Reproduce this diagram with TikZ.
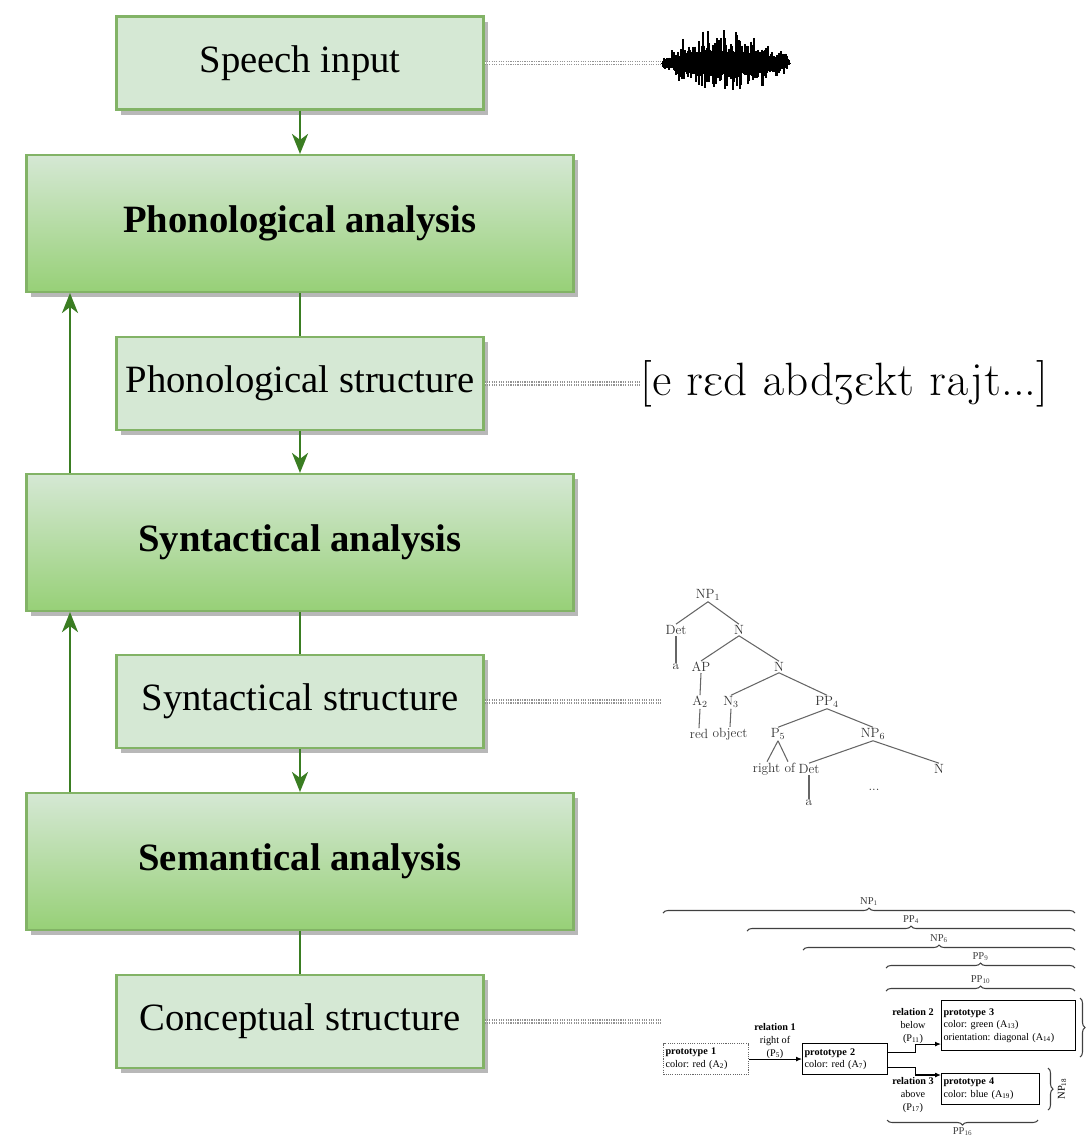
\documentclass[tikz,border=0pt]{standalone}
\usepackage{fontspec}
\usepackage{tipa}
\newfontfamily\timesfont{Liberation Serif}
\usetikzlibrary{arrows.meta}
\usetikzlibrary{shadows}
\usetikzlibrary{decorations.pathreplacing}
\usetikzlibrary{calc}
\definecolor{boxfill}{HTML}{D5E8D4}
\definecolor{boxline}{HTML}{82B366}
\definecolor{boxdark}{HTML}{97D077}
\definecolor{flowgreen}{HTML}{3A7D22}

\begin{document}
\begin{tikzpicture}[x=0.03cm,y=-0.03cm,
	structure/.style={draw=boxline, line width=1.8pt, fill=boxfill, minimum width=11.01cm, minimum height=2.79cm, inner sep=0pt,
		font=\timesfont\fontsize{33}{39}\selectfont,
		drop shadow={shadow xshift=0.135cm, shadow yshift=-0.15cm, fill=black!35, opacity=0.8}},
	analysis/.style={structure, top color=boxfill, bottom color=boxdark, minimum width=16.41cm, minimum height=4.11cm,
		font=\timesfont\bfseries\fontsize{33}{39}\selectfont},
	flow/.style={flowgreen, line width=2.1pt, -{Stealth[length=0.6cm,width=0.48cm,inset=0.18cm]}},
	flowline/.style={flowgreen, line width=2.1pt},
	link/.style={gray!85, line width=1pt, densely dotted, double=white, double distance=1.5pt},
	tree/.style={inner sep=0.03cm, text=black!80, font=\fontsize{11.4}{13.5}\selectfont},
	treeline/.style={black!60, line width=0.9pt},
	proto/.style={draw, line width=0.9pt, inner sep=0.06cm, align=left, anchor=north west, minimum height=0.93cm,
		font=\timesfont\frenchspacing\fontsize{8.7}{10.8}\selectfont},
	rel/.style={inner sep=0pt, align=center, font=\timesfont\fontsize{8.7}{10.8}\selectfont},
	lab/.style={inner sep=0pt, font=\timesfont\fontsize{9}{10.8}\selectfont},
	conarrow/.style={line width=0.9pt, -{Latex[length=0.18cm,width=0.15cm]}},
	brace/.style={decorate, decoration={brace, amplitude=0.15cm}, line width=0.9pt, black!75}]
	\useasboundingbox (0,0) rectangle (1089,1141);
	% define coordinates
	\coordinate (fb) at (70,0);
	\coordinate (wave) at (662,63);
	\coordinate (treeL) at (662,701.5);
	\coordinate (concL) at (662,1021.5);
	% stages
	\node[structure] (speech) at (300,63) {Speech input};
	\node[analysis] (phon) at (300,223.5) {Phonological analysis};
	\node[structure] (phonstr) at (300,383.5) {Phonological structure};
	\node[analysis] (syn) at (300,542.5) {Syntactical analysis};
	\node[structure] (synstr) at (300,701.5) {Syntactical structure};
	\node[analysis] (sem) at (300,861.5) {Semantical analysis};
	\node[structure] (concstr) at (300,1021.5) {Conceptual structure};
	% flow
	\draw[flow] (speech.south) -- (phon.north);
	\draw[flowline] (phon.south) -- (phonstr.north);
	\draw[flow] (phonstr.south) -- (syn.north);
	\draw[flowline] (syn.south) -- (synstr.north);
	\draw[flow] (synstr.south) -- (sem.north);
	\draw[flowline] (sem.south) -- (concstr.north);
	\draw[flow] (syn.north -| fb) -- (phon.south -| fb);
	\draw[flow] (sem.north -| fb) -- (syn.south -| fb);
	% speech signal
	\pgfmathsetseed{42}
	\foreach \i in {0,...,128}{
		\pgfmathsetmacro\env{sqrt(max(sin(1.40625*\i),0.001))}
		\pgfmathsetmacro\up{\env*(10+25*rnd*rnd)}
		\pgfmathsetmacro\dn{\env*(10+25*rnd*rnd)}
		\draw[line width=0.036cm] (662+\i,63-\up) -- (662+\i,63+\dn);
	}
	\draw[link] (speech.east) -- (wave);
	% transcription
	\node[anchor=west, inner sep=0pt, scale=1.6, font=\fontsize{24.88}{30}\selectfont] (ipa) at (640,383.5) {[\textipa{e rEd abdZEkt rajt}...]};
	\draw[link] (phonstr.east) -- (ipa.west);
	% syntax tree
	\draw[link] (synstr.east) -- (treeL);
	\node[tree] (np1) at (708,595) {NP$_1$};
	\node[tree] (detA) at (676,630) {Det};
	\node[tree] (nA) at (739,630) {N};
	\node[tree] (aA) at (676,667) {a};
	\node[tree] (ap) at (701,667) {AP};
	\node[tree] (nB) at (779,667) {N};
	\node[tree] (a2) at (700,702) {A$_2$};
	\node[tree] (n3) at (731,702) {N$_3$};
	\node[tree] (pp4) at (827,702) {PP$_4$};
	\node[tree] (red) at (699,734) {red};
	\node[tree] (obj) at (730,734) {object};
	\node[tree] (p5) at (778,734) {P$_5$};
	\node[tree] (np6) at (873,734) {NP$_6$};
	\node[tree] (rightof) at (774,769) {right of};
	\node[tree] (detB) at (809,769) {Det};
	\node[tree] (nC) at (939,769) {N};
	\node[tree] (aB) at (809,803) {a};
	\node[tree] (dots) at (874,790) {...};
	\draw[treeline] (np1.south) -- (detA.north);
	\draw[treeline] (np1.south) -- (nA.north);
	\draw[treeline] (detA.south) -- (aA.north);
	\draw[treeline] (nA.south) -- (ap.north);
	\draw[treeline] (nA.south) -- (nB.north);
	\draw[treeline] (ap.south) -- (a2.north);
	\draw[treeline] (nB.south) -- (n3.north);
	\draw[treeline] (nB.south) -- (pp4.north);
	\draw[treeline] (a2.south) -- (red.north);
	\draw[treeline] (n3.south) -- (obj.north);
	\draw[treeline] (pp4.south) -- (p5.north);
	\draw[treeline] (pp4.south) -- (np6.north);
	\draw[treeline] (p5.south) -- ($(rightof.north)+(-7,0)$);
	\draw[treeline] (p5.south) -- ($(rightof.north)+(14,0)$);
	\draw[treeline] (np6.south) -- (detB.north);
	\draw[treeline] (np6.south) -- (nC.north);
	\draw[treeline] (detB.south) -- (aB.north);
	% conceptual structure
	\draw[link] (concstr.east) -- (concL);
	\node[proto, densely dotted, draw=black!60, text width=2.43cm] (pr1) at (663,1043) {\textbf{prototype 1}\\color: red (A\textsubscript{2})};
	\node[proto, text width=2.43cm] (pr2) at (802,1043) {\textbf{prototype 2}\\color: red (A\textsubscript{7})};
	\node[proto, text width=3.90cm, minimum height=1.50cm] (pr3) at (941,1000) {\textbf{prototype 3}\\color: green (A\textsubscript{13})\\orientation: diagonal (A\textsubscript{14})};
	\node[proto, text width=2.82cm] (pr4) at (941,1073) {\textbf{prototype 4}\\color: blue (A\textsubscript{19})};
	\node[rel] (rel1) at (775,1041) {\textbf{relation 1}\\right of\\(P\textsubscript{5})};
	\node[rel] (rel2) at (913,1026) {\textbf{relation 2}\\below\\(P\textsubscript{11})};
	\node[rel] (rel3) at (913,1095) {\textbf{relation 3}\\above\\(P\textsubscript{17})};
	\draw[conarrow] (pr1.east) -- (pr2.west);
	\draw[conarrow] ($(pr2.east)+(0,-6.5)$) -- ++(27,0) |- ($(pr3.south west)+(0,-7)$);
	\draw[conarrow] ($(pr2.east)+(0,8.5)$) -- ++(27,0) |- ($(pr4.north west)+(0,2)$);
	% braces
	\draw[brace] (663,913) -- (1075,913) node[lab, midway, above=0.21cm] (np1lab) {NP\textsubscript{1}};
	\draw[brace] (747,931) -- (1075,931) node[lab, midway, above=0.21cm] (pp4lab) {PP\textsubscript{4}};
	\draw[brace] (803,950) -- (1075,950) node[lab, midway, above=0.21cm] (np6lab) {NP\textsubscript{6}};
	\draw[brace] (886,968) -- (1075,968) node[lab, midway, above=0.21cm] (pp9lab) {PP\textsubscript{9}};
	\draw[brace] (886,991) -- (1075,991) node[lab, midway, above=0.21cm] (pp10lab) {PP\textsubscript{10}};
	\draw[brace] (1080,998) -- (1080,1057);
	\draw[brace] (1048,1068) -- (1048,1110);
	\node[lab, rotate=90] (np18lab) at (1062,1089) {NP\textsubscript{18}};
	\draw[brace] (1038,1120) -- (887,1120) node[lab, midway, below=0.21cm] (pp16lab) {PP\textsubscript{16}};
\end{tikzpicture}
\end{document}
